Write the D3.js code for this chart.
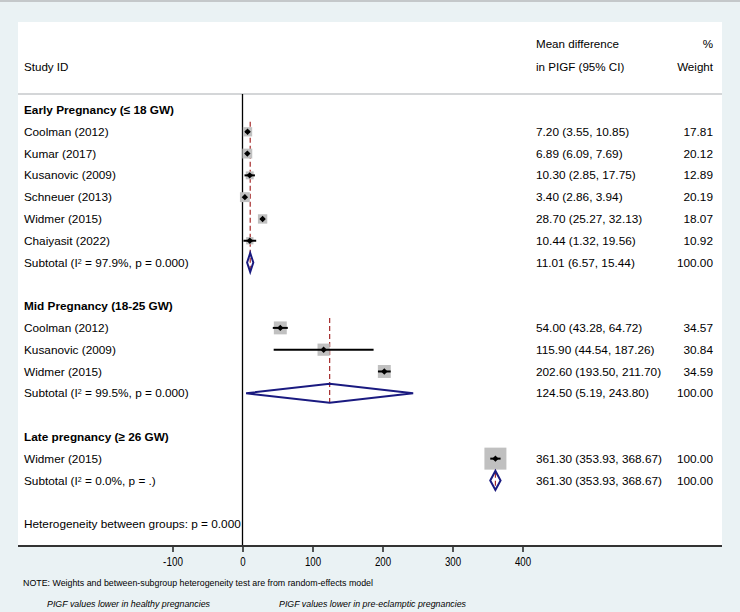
<!DOCTYPE html>
<html><head><meta charset="utf-8">
<script src="https://cdn.jsdelivr.net/npm/d3@7/dist/d3.min.js"></script>
<style>body{margin:0;background:#eaf2f4;} svg{display:block;font-family:"Liberation Sans",Arial,sans-serif;}</style>
</head><body>
<svg id="c" width="740" height="612"></svg>
<script>
// ---- data ----
const groupNames = ["Early Pregnancy (\u2264 18 GW)", "Mid Pregnancy (18-25 GW)", "Late pregnancy (\u2265 26 GW)"];
const studyGroup = [0,0,0,0,0,0, 1,1,1, 2];
const studyNames = ["Coolman (2012)","Kumar (2017)","Kusanovic (2009)","Schneuer (2013)","Widmer (2015)","Chaiyasit (2022)",
                    "Coolman (2012)","Kusanovic (2009)","Widmer (2015)", "Widmer (2015)"];
const studyEst = [7.20, 6.89, 10.30, 3.40, 28.70, 10.44, 54.00, 115.90, 202.60, 361.30];
const studyLo  = [3.55, 6.09, 2.85, 2.86, 25.27, 1.32, 43.28, 44.54, 193.50, 353.93];
const studyHi  = [10.85, 7.69, 17.75, 3.94, 32.13, 19.56, 64.72, 187.26, 211.70, 368.67];
const studyWeight = [17.81, 20.12, 12.89, 20.19, 18.07, 10.92, 34.57, 30.84, 34.59, 100.00];
const subI2 = ["97.9%", "99.5%", "0.0%"];
const subP = ["0.000", "0.000", "."];
const subEst = [11.01, 124.50, 361.30];
const subLo = [6.57, 5.19, 353.93];
const subHi = [15.44, 243.80, 368.67];
const xTicks = [-100, 0, 100, 200, 300, 400];
const hetText = "Heterogeneity between groups: p = 0.000";
const noteText = "NOTE: Weights and between-subgroup heterogeneity test are from random-effects model";
const leftLabel = "PIGF values lower in healthy pregnancies";
const rightLabel = "PIGF values lower in pre-eclamptic pregnancies";

const fmt = d3.format(".2f");
const svg = d3.select("#c");
const FS = 11.8;

// background
svg.append("rect").attr("x",0).attr("y",0).attr("width",740).attr("height",612).attr("fill","#eaf2f4");
svg.append("line").attr("x1",0).attr("x2",740).attr("y1",1).attr("y2",1).attr("stroke","#c4c8ca").attr("stroke-width",2);
const panel = {x0:18, x1:722, y0:22, y1:546};
svg.append("rect").attr("x",panel.x0).attr("y",panel.y0).attr("width",panel.x1-panel.x0).attr("height",panel.y1-panel.y0).attr("fill","#fff");
svg.append("line").attr("x1",panel.x0).attr("x2",panel.x1).attr("y1",94).attr("y2",94).attr("stroke","#d4d6d8").attr("stroke-width",2);

// scales
const x = d3.scaleLinear().domain([0, 400]).range([242.5, 522.5]);
const y = d3.scaleLinear().domain([0, 19]).range([110, 524]);
const boxSide = d3.scaleSqrt().domain([0, 100]).range([0, 22]);

// build rows
const rows = [];
let r = 0;
groupNames.forEach((g, gi) => {
  rows.push({type:"head", label:g, row:r++});
  const first = r;
  studyNames.forEach((s, si) => {
    if (studyGroup[si] === gi) rows.push({type:"study", label:s, est:studyEst[si], lo:studyLo[si], hi:studyHi[si], w:studyWeight[si], row:r++});
  });
  rows.push({type:"sub", gi, est:subEst[gi], lo:subLo[gi], hi:subHi[gi], w:100, row:r++, first});
  r++; // blank
});
const hetRow = r;

// header
const hdr = svg.append("g").attr("font-size",11.6).attr("fill","#000");
hdr.append("text").attr("x",24).attr("y",67).attr("dy","0.35em").text("Study ID");
hdr.append("text").attr("x",536).attr("y",44).attr("dy","0.35em").text("Mean difference");
hdr.append("text").attr("x",536).attr("y",67).attr("dy","0.35em").text("in PIGF (95% CI)");
hdr.append("text").attr("x",713).attr("y",44).attr("dy","0.35em").attr("text-anchor","end").text("%");
hdr.append("text").attr("x",713).attr("y",67).attr("dy","0.35em").attr("text-anchor","end").text("Weight");

// zero line
svg.append("line").attr("x1",x(0)).attr("x2",x(0)).attr("y1",94).attr("y2",panel.y1).attr("stroke","#000").attr("stroke-width",1.3);

// dashed subtotal lines
rows.filter(d=>d.type==="sub").forEach(d => {
  svg.append("line").attr("x1",x(d.est)).attr("x2",x(d.est))
    .attr("y1",y(d.first)-10).attr("y2",y(d.row)+10)
    .attr("stroke","#a52a2a").attr("stroke-width",1.2).attr("stroke-dasharray","5,3");
});

const txt = svg.append("g").attr("font-size",FS).attr("fill","#000");
rows.forEach(d => {
  const yy = y(d.row);
  if (d.type === "head") {
    txt.append("text").attr("x",24).attr("y",yy).attr("dy","0.35em").attr("font-weight","bold").text(d.label);
  } else if (d.type === "study") {
    txt.append("text").attr("x",24).attr("y",yy).attr("dy","0.35em").text(d.label);
    const s = boxSide(d.w);
    svg.append("rect").attr("x",x(d.est)-s/2).attr("y",yy-s/2).attr("width",s).attr("height",s).attr("fill","#c0c0c0");
    svg.append("line").attr("x1",x(d.lo)).attr("x2",x(d.hi)).attr("y1",yy).attr("y2",yy).attr("stroke","#000").attr("stroke-width",2);
    const m = 3.2;
    svg.append("path").attr("d",`M${x(d.est)-m},${yy}L${x(d.est)},${yy-m}L${x(d.est)+m},${yy}L${x(d.est)},${yy+m}Z`).attr("fill","#000");
  } else {
    const t = txt.append("text").attr("x",24).attr("y",yy).attr("dy","0.35em");
    t.append("tspan").text("Subtotal (I");
    t.append("tspan").attr("font-size",7).attr("baseline-shift","super").text("2");
    t.append("tspan").text(` = ${subI2[d.gi]}, p = ${subP[d.gi]})`);
    const h = 9.5;
    svg.append("path").attr("d",`M${x(d.lo)},${yy}L${x(d.est)},${yy-h}L${x(d.hi)},${yy}L${x(d.est)},${yy+h}Z`)
      .attr("fill","none").attr("stroke","#1a1a80").attr("stroke-width",2);
  }
  if (d.type !== "head") {
    txt.append("text").attr("x",536).attr("y",yy).attr("dy","0.35em").text(`${fmt(d.est)} (${fmt(d.lo)}, ${fmt(d.hi)})`);
    txt.append("text").attr("x",713).attr("y",yy).attr("dy","0.35em").attr("text-anchor","end").text(fmt(d.w));
  }
});
txt.append("text").attr("x",24).attr("y",y(hetRow)).attr("dy","0.35em").text(hetText);

// axis
const ax = svg.append("g").attr("transform",`translate(0,${panel.y1})`)
  .call(d3.axisBottom(x).tickValues(xTicks).tickSize(6).tickPadding(5).tickFormat(d => String(d)));
ax.select(".domain").remove();
ax.selectAll(".tick line").attr("stroke","#000").attr("stroke-width",1.3);
ax.selectAll(".tick text").attr("font-size",13).attr("font-family","Liberation Sans, Arial, sans-serif").attr("fill","#000")
  .attr("textLength", d => String(Math.abs(d)).length*5.4 + (d<0?3.6:0)).attr("lengthAdjust","spacingAndGlyphs");
svg.append("line").attr("x1",panel.x0).attr("x2",panel.x1).attr("y1",panel.y1).attr("y2",panel.y1).attr("stroke","#333").attr("stroke-width",2);

// notes
svg.append("text").attr("x",23).attr("y",583).attr("dy","0.35em").attr("font-size",8.8).attr("textLength",350).attr("lengthAdjust","spacingAndGlyphs").text(noteText);
svg.append("text").attr("x",47).attr("y",604).attr("dy","0.35em").attr("font-size",8.8).attr("font-style","italic").attr("textLength",163).attr("lengthAdjust","spacingAndGlyphs").text(leftLabel);
svg.append("text").attr("x",279).attr("y",604).attr("dy","0.35em").attr("font-size",8.8).attr("font-style","italic").attr("textLength",187).attr("lengthAdjust","spacingAndGlyphs").text(rightLabel);
</script>
</body></html>
